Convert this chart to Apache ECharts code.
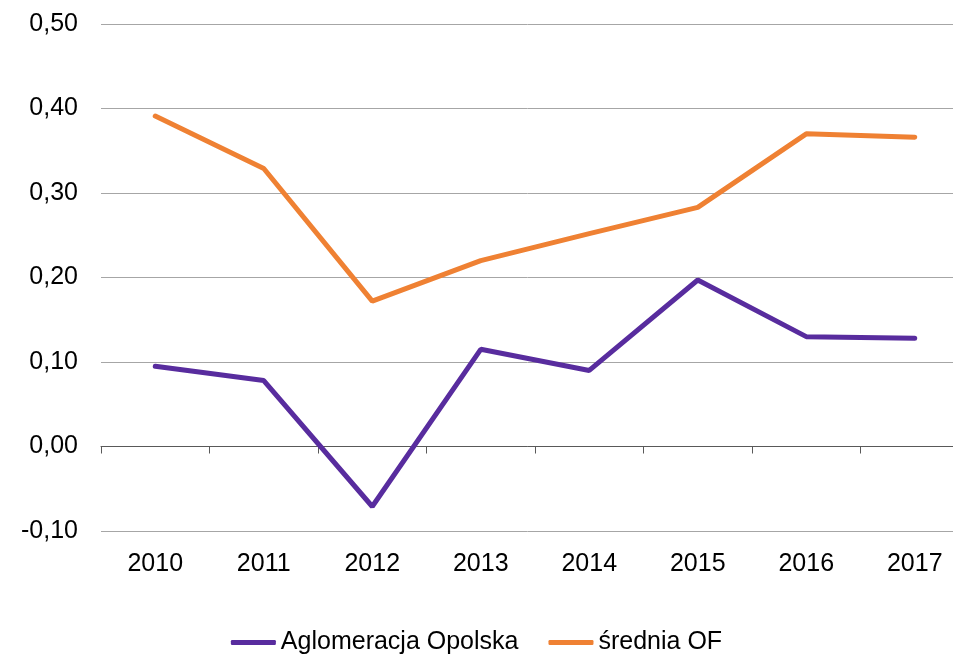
<!DOCTYPE html>
<html>
<head>
<meta charset="utf-8">
<script src="https://cdn.jsdelivr.net/npm/echarts@6/dist/echarts.min.js"></script>
<style>
  html, body { margin: 0; padding: 0; background: #fff; }
  #chart { width: 953px; height: 658px; }
</style>
</head>
<body>
<div id="chart"></div>
<script>
const years = ['2010', '2011', '2012', '2013', '2014', '2015', '2016', '2017']
const aglomeracja = [0.095, 0.078, -0.071, 0.115, 0.090, 0.197, 0.130, 0.128]
const sredniaOF = [0.391, 0.329, 0.172, 0.220, 0.252, 0.283, 0.370, 0.366]

const fmt = v => v.toFixed(2).replace('.', ',')
const font = 'Liberation Sans, Arial, sans-serif'

const chart = echarts.init(document.getElementById('chart'))
chart.setOption({
  animation: false,
  backgroundColor: '#fff',
  textStyle: { fontFamily: font },
  // plot area runs past the right edge, like the original
  grid: { left: 101, top: 24, width: 868, height: 507, outerBoundsMode: 'none', containLabel: false },
  legend: {
    bottom: -2,
    left: 'center',
    itemWidth: 45,
    itemHeight: 5,
    itemGap: 30,
    icon: 'roundRect',
    textStyle: { fontSize: 25, color: '#000', fontFamily: font },
    data: ['Aglomeracja Opolska', 'średnia OF'],
  },
  xAxis: [
    {
      // labels along the bottom
      type: 'category',
      data: years,
      position: 'bottom',
      axisLine: { show: false, onZero: false },
      axisTick: { show: false },
      axisLabel: { color: '#000', fontSize: 25, margin: 21 },
    },
    {
      // axis line + ticks sitting at 0,00
      type: 'category',
      data: years,
      position: 'bottom',
      axisLine: { onZero: true, lineStyle: { color: '#595959', width: 1 } },
      axisTick: { show: true, length: 7, lineStyle: { color: '#595959' } },
      axisLabel: { show: false },
    },
  ],
  yAxis: {
    type: 'value',
    min: -0.1,
    max: 0.5,
    interval: 0.1,
    axisLine: { show: false },
    axisTick: { show: false },
    axisLabel: { color: '#000', fontSize: 25, margin: 23, formatter: fmt },
    splitLine: { lineStyle: { color: '#a6a6a6', width: 1 } },
  },
  series: [
    {
      name: 'Aglomeracja Opolska',
      type: 'line',
      data: aglomeracja,
      symbol: 'none',
      lineStyle: { width: 5, color: '#582c9e', cap: 'round' },
      itemStyle: { color: '#582c9e' },
    },
    {
      name: 'średnia OF',
      type: 'line',
      data: sredniaOF,
      symbol: 'none',
      lineStyle: { width: 5, color: '#ef8133', cap: 'round' },
      itemStyle: { color: '#ef8133' },
    },
  ],
})
</script>
</body>
</html>
